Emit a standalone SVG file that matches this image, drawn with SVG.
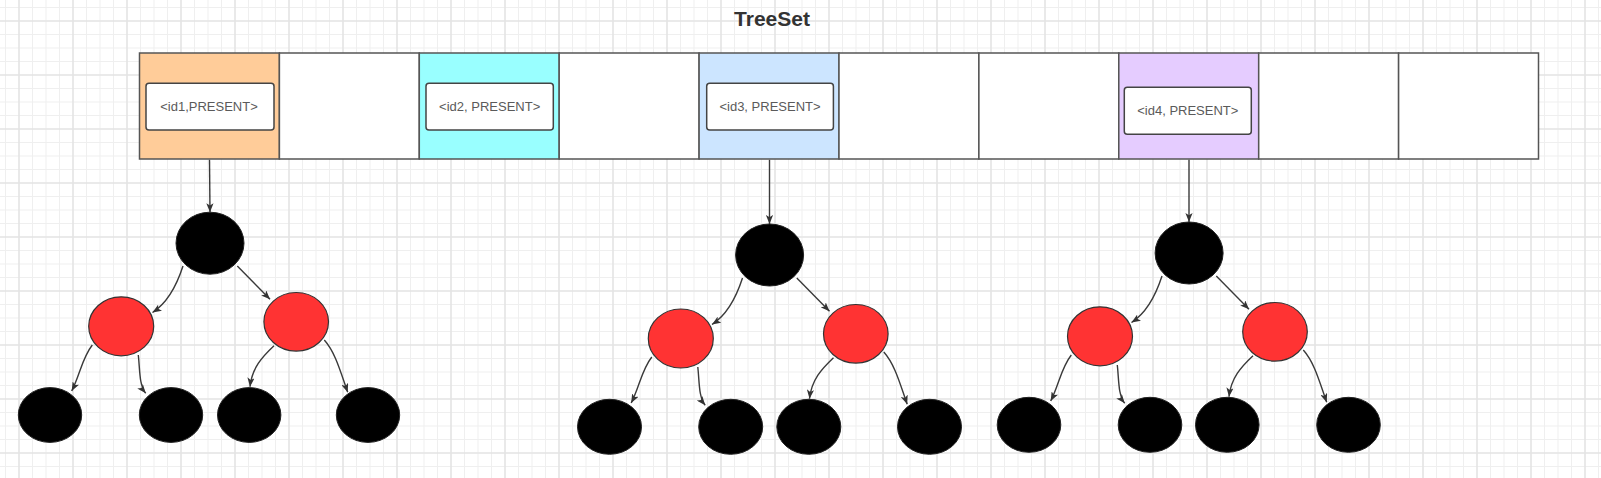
<svg xmlns="http://www.w3.org/2000/svg" width="1601" height="478" viewBox="0 0 1601 478">
<style>
.cell{stroke:#555;stroke-width:1.5}
.lbl{fill:#fff;stroke:#444;stroke-width:1.5}
.lt{font-family:"Liberation Sans",Arial,sans-serif;font-size:13px;fill:#5a5a5a;text-anchor:middle}
.title{font-family:"Liberation Sans",Arial,sans-serif;font-size:21px;font-weight:bold;fill:#333;text-anchor:middle}
.blk{fill:#000;stroke:#222;stroke-width:1}
.red{fill:#ff3333;stroke:#333;stroke-width:1.2}
.edge{fill:none;stroke:#3a3a3a;stroke-width:1.4;marker-end:url(#arr)}
</style>
<defs>
<pattern id="grid" patternUnits="userSpaceOnUse" x="-8" y="-6" width="54" height="54">
<path d="M0 0V54M13.5 0V54M40.5 0V54M54 0V54M0 0H54M0 13.5H54M0 40.5H54M0 54H54" stroke="#efefef" stroke-width="1" fill="none"/>
<path d="M27 0V54M0 27H54" stroke="#e4e4e4" stroke-width="1.6" fill="none"/>
</pattern>
<marker id="arr" markerUnits="userSpaceOnUse" viewBox="0 0 10 8" markerWidth="9" markerHeight="7.2" refX="10" refY="4" orient="auto">
<path d="M0 0L10 4L0 8L2.5 4Z" fill="#333"/>
</marker>
</defs>
<rect width="1601" height="478" fill="#fff"/>
<rect width="1601" height="478" fill="url(#grid)"/>

<g id="title"><text class="title" x="772" y="26">TreeSet</text></g>

<g id="array">
<rect id="cell1" class="cell" x="139.5" y="53" width="139.9" height="106" fill="#ffcc99"/>
<rect id="cell2" class="cell" x="279.4" y="53" width="139.9" height="106" fill="#fff"/>
<rect id="cell3" class="cell" x="419.3" y="53" width="139.9" height="106" fill="#99ffff"/>
<rect id="cell4" class="cell" x="559.2" y="53" width="139.9" height="106" fill="#fff"/>
<rect id="cell5" class="cell" x="699.1" y="53" width="139.9" height="106" fill="#cce5ff"/>
<rect id="cell6" class="cell" x="839" y="53" width="139.9" height="106" fill="#fff"/>
<rect id="cell7" class="cell" x="978.9" y="53" width="139.9" height="106" fill="#fff"/>
<rect id="cell8" class="cell" x="1118.8" y="53" width="139.9" height="106" fill="#e5ccff"/>
<rect id="cell9" class="cell" x="1258.7" y="53" width="139.9" height="106" fill="#fff"/>
<rect id="cell10" class="cell" x="1398.6" y="53" width="139.9" height="106" fill="#fff"/>
</g>

<g id="entry1"><rect class="lbl" x="146" y="83.3" width="128" height="46.7" rx="3"/><text class="lt" x="209" y="111">&lt;id1,PRESENT&gt;</text></g>
<g id="entry2"><rect class="lbl" x="426" y="83.3" width="127.3" height="46.7" rx="3"/><text class="lt" x="489.7" y="111">&lt;id2, PRESENT&gt;</text></g>
<g id="entry3"><rect class="lbl" x="706.7" y="83.3" width="126.7" height="46.7" rx="3"/><text class="lt" x="770" y="111">&lt;id3, PRESENT&gt;</text></g>
<g id="entry4"><rect class="lbl" x="1124.3" y="87.3" width="127" height="47" rx="3"/><text class="lt" x="1187.8" y="115">&lt;id4, PRESENT&gt;</text></g>

<g id="connectors">
<path class="edge" d="M209.5 159.8L210 212.2"/>
<path class="edge" d="M769.5 159.8L769.5 224"/>
<path class="edge" d="M1189 159.8L1189 222"/>
<g id="tree1-edges">
<path class="edge" d="M183 266Q172 300 152.5 312.5"/>
<path class="edge" d="M237.3 266Q254 283 270 299.3"/>
<path class="edge" d="M92.3 345C82 358 80 375 71.7 391"/>
<path class="edge" d="M138.3 355C140 370 139 385 145.7 393.3"/>
<path class="edge" d="M274 345.7C262 357 252 368 250 386.7"/>
<path class="edge" d="M324.3 340C335 352 340 370 347.7 392.3"/>
</g>
<g id="tree2-edges" transform="translate(559.5,12)">
<path class="edge" d="M183 266Q172 300 152.5 312.5"/>
<path class="edge" d="M237.3 266Q254 283 270 299.3"/>
<path class="edge" d="M92.3 345C82 358 80 375 71.7 391"/>
<path class="edge" d="M138.3 355C140 370 139 385 145.7 393.3"/>
<path class="edge" d="M274 345.7C262 357 252 368 250 386.7"/>
<path class="edge" d="M324.3 340C335 352 340 370 347.7 392.3"/>
</g>
<g id="tree3-edges" transform="translate(979,10)">
<path class="edge" d="M183 266Q172 300 152.5 312.5"/>
<path class="edge" d="M237.3 266Q254 283 270 299.3"/>
<path class="edge" d="M92.3 345C82 358 80 375 71.7 391"/>
<path class="edge" d="M138.3 355C140 370 139 385 145.7 393.3"/>
<path class="edge" d="M274 345.7C262 357 252 368 250 386.7"/>
<path class="edge" d="M324.3 340C335 352 340 370 347.7 392.3"/>
</g>
</g>

<g id="t1-root"><ellipse class="blk" cx="210" cy="243.2" rx="34" ry="31"/></g>
<g id="t1-left"><ellipse class="red" cx="121.2" cy="326.3" rx="32.5" ry="29.5"/></g>
<g id="t1-right"><ellipse class="red" cx="296.2" cy="321.8" rx="32.3" ry="29.3"/></g>
<g id="t1-leaf1"><ellipse class="blk" cx="50" cy="415" rx="31.7" ry="27.4"/></g>
<g id="t1-leaf2"><ellipse class="blk" cx="171" cy="415" rx="31.7" ry="27.4"/></g>
<g id="t1-leaf3"><ellipse class="blk" cx="249.2" cy="415" rx="31.7" ry="27.4"/></g>
<g id="t1-leaf4"><ellipse class="blk" cx="368" cy="415" rx="31.7" ry="27.4"/></g>

<g id="t2-root"><ellipse class="blk" cx="769.6" cy="255" rx="34" ry="31"/></g>
<g id="t2-left"><ellipse class="red" cx="680.8" cy="338.5" rx="32.5" ry="29.5"/></g>
<g id="t2-right"><ellipse class="red" cx="855.8" cy="333.8" rx="32.3" ry="29.3"/></g>
<g id="t2-leaf1"><ellipse class="blk" cx="609.5" cy="426.8" rx="32" ry="27.5"/></g>
<g id="t2-leaf2"><ellipse class="blk" cx="730.7" cy="426.8" rx="32" ry="27.5"/></g>
<g id="t2-leaf3"><ellipse class="blk" cx="808.8" cy="426.8" rx="32" ry="27.5"/></g>
<g id="t2-leaf4"><ellipse class="blk" cx="929.5" cy="426.8" rx="32" ry="27.5"/></g>

<g id="t3-root"><ellipse class="blk" cx="1189.1" cy="253" rx="34" ry="31"/></g>
<g id="t3-left"><ellipse class="red" cx="1100" cy="336.3" rx="32.5" ry="29.5"/></g>
<g id="t3-right"><ellipse class="red" cx="1275" cy="331.8" rx="32.3" ry="29.3"/></g>
<g id="t3-leaf1"><ellipse class="blk" cx="1029" cy="424.8" rx="31.8" ry="27.5"/></g>
<g id="t3-leaf2"><ellipse class="blk" cx="1150" cy="424.8" rx="31.8" ry="27.5"/></g>
<g id="t3-leaf3"><ellipse class="blk" cx="1227.3" cy="424.8" rx="31.8" ry="27.5"/></g>
<g id="t3-leaf4"><ellipse class="blk" cx="1348.5" cy="424.8" rx="31.8" ry="27.5"/></g>
</svg>
